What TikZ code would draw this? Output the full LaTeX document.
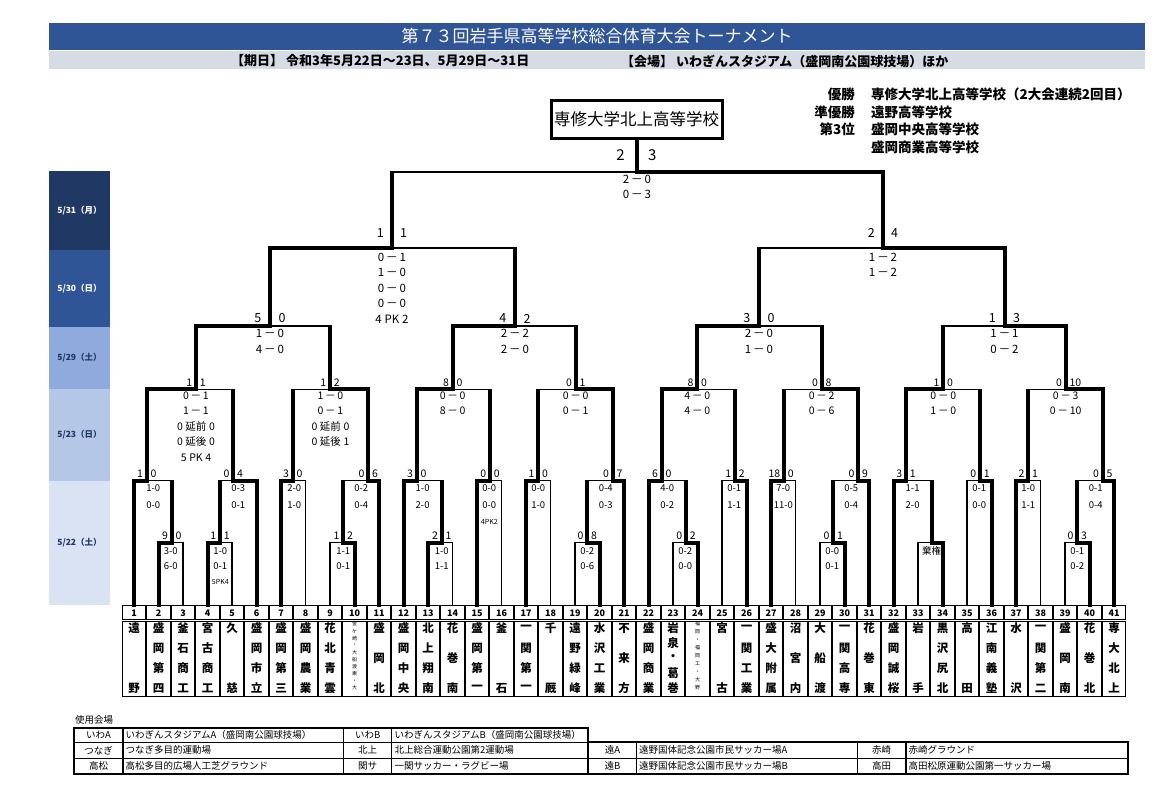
\documentclass[tikz,border=0pt]{standalone}
\usepackage{fontspec}
\setmainfont{Noto Sans CJK JP}
\usetikzlibrary{calc}
\definecolor{titleblue}{HTML}{2F5597}
\definecolor{greybar}{HTML}{D6DCE5}
\definecolor{dA}{HTML}{203864}
\definecolor{dB}{HTML}{2F5597}
\definecolor{dC}{HTML}{8FAADC}
\definecolor{dD}{HTML}{B4C7E7}
\definecolor{dE}{HTML}{DAE3F3}
\definecolor{dtxt}{HTML}{1F3864}
\newcommand\bwt[2]{\draw[win] (#1) |- (#2);}
\newcommand\blt[2]{\draw[lose] (#1) |- (#2);}
\newcommand\bwm[2]{\draw[win] (#1) |- (#2);}
\newcommand\blm[2]{\draw[winv] (#1) -- ($(#1 |- #2)+(0,-0.75)$);\draw[lose] (#1 |- #2) -- (#2);}
\newcommand\mrd[5]{\coordinate (#1) at (#2,#3);
  \node[rl,anchor=east] (la#1) at (#2-3.6,#3-7) {#4};
  \node[rl,anchor=west] (lb#1) at (#2+3.6,#3-7) {#5};}
\newcommand\mqf[5]{\coordinate (#1) at (#2,#3);
  \node[ql,anchor=east] (la#1) at (#2-8.5,#3-7.5) {#4};
  \node[ql,anchor=west] (lb#1) at (#2+8.5,#3-7.5) {#5};}
\newcommand\tnm[3]{\foreach \tch [count=\k] in {#3}{\node[tn] (c#1-\k) at ({134+(#1-1)*24.5},{628+(\k-1)*60/(#2-1)}) {\tch};}}
\newcommand\tnmt[3]{\foreach \tch [count=\k] in {#3}{\node[tnt] (c#1-\k) at ({134+(#1-1)*24.5},{624+(\k-1)*64/(#2-1)}) {\tch};}}
\newcommand\dm{\,－\,}
\newcommand\ex[1]{\hspace{0.25em}#1\hspace{0.25em}}
\begin{document}
\begin{tikzpicture}[x=1pt,y=-1pt,
  win/.style={line width=4pt,line cap=rect,line join=miter},
  winv/.style={line width=4pt,line cap=butt},
  lose/.style={line width=1.5pt},
  rl/.style={inner sep=0pt,font=\fontsize{10.5}{12}\selectfont},
  ql/.style={inner sep=0pt,font=\fontsize{12.5}{14}\selectfont},
  sA/.style={anchor=north,inner sep=0pt,align=center,font=\fontsize{9.5}{15}\selectfont},
  sB/.style={anchor=north,inner sep=0pt,align=center,font=\fontsize{9.5}{16.5}\selectfont},
  sC/.style={anchor=north,inner sep=0pt,align=center,font=\fontsize{10.5}{15.5}\selectfont},
  sD/.style={anchor=north,inner sep=0pt,align=center,font=\fontsize{11.5}{15.6}\selectfont},
  band/.style={minimum width=61pt,inner sep=0pt,font=\bfseries\fontsize{8.5}{10}\selectfont},
  info/.style={inner sep=0pt,font=\bfseries\fontsize{13.5}{15}\selectfont},
  cell/.style={line width=1.1pt},
  tn/.style={inner sep=0pt,font=\bfseries\fontsize{11.5}{12}\selectfont},
  tnt/.style={inner sep=0pt,font=\fontsize{5}{6}\selectfont},
  numf/.style={inner sep=0pt,font=\bfseries\fontsize{9}{10}\selectfont},
  lto/.style={line width=2pt},
  lti/.style={line width=1.3pt},
  lg/.style={inner sep=0pt,font=\fontsize{9.5}{11}\selectfont}]
\useasboundingbox (0,0) rectangle (1152,790);
\fill[white] (0,0) rectangle (1152,790);
% header
\node[fill=titleblue,minimum width=1096pt,minimum height=27pt,inner sep=0pt,text=white,font=\fontsize{17}{19}\selectfont] (title) at (597,36.5) {第７３回岩手県高等学校総合体育大会トーナメント};
\node[fill=greybar,minimum width=1096pt,minimum height=18pt,inner sep=0pt] (sub) at (597,60) {};
\node[inner sep=0pt,anchor=west,font=\bfseries\fontsize{13}{14}\selectfont] (period) at (231,61) {【期日】 令和3年5月22日～23日、5月29日～31日};
\node[inner sep=0pt,anchor=west,font=\bfseries\fontsize{13}{14}\selectfont] (venue) at (621,61) {【会場】 いわぎんスタジアム（盛岡南公園球技場）ほか};
% champion box
\node[draw,line width=3pt,minimum width=171pt,minimum height=38pt,inner sep=0pt,font=\fontsize{16.5}{18}\selectfont] (champ) at (636.5,119.5) {専修大学北上高等学校};
% results
\node[info,anchor=east] (w1l) at (855,94) {優勝};
\node[info,anchor=west] (w1v) at (871,94) {専修大学北上高等学校（2大会連続2回目）};
\node[info,anchor=east] (w2l) at (855,112) {準優勝};
\node[info,anchor=west] (w2v) at (871,112) {遠野高等学校};
\node[info,anchor=east] (w3l) at (855,129.5) {第3位};
\node[info,anchor=west] (w3v) at (871,129.5) {盛岡中央高等学校};
\node[info,anchor=west] (w4v) at (871,147) {盛岡商業高等学校};
% date bands
\node[band,fill=dA,minimum height=79pt,text=white] (d531) at (79.5,210.5) {5/31（月）};
\node[band,fill=dB,minimum height=77pt,text=white] (d530) at (79.5,288.5) {5/30（日）};
\node[band,fill=dC,minimum height=62pt,text=dtxt] (d529) at (79.5,358) {5/29（土）};
\node[band,fill=dD,minimum height=92pt,text=dtxt] (d523) at (79.5,435) {5/23（日）};
\node[band,fill=dE,minimum height=124pt,text=dtxt] (d522) at (79.5,543) {5/22（土）};
% team anchors
\foreach \i in {1,...,41} \coordinate (t\i) at ({134+(\i-1)*24.5},605);
% matches
\mrd{mA}{171.7}{542.7}{9}{0}
\mrd{mB}{220}{542.7}{1}{1}
\mrd{mC}{146.7}{480.7}{1}{0}
\mrd{mD}{233.3}{480.7}{0}{4}
\mrd{mE}{196}{389.3}{1}{1}
\mrd{mG}{292.7}{480.7}{3}{0}
\mrd{mH}{343.3}{542.7}{1}{2}
\mrd{mI}{368.3}{480.7}{0}{6}
\mrd{mF}{330}{389.3}{1}{2}
\mrd{mK}{441.7}{542.7}{2}{1}
\mrd{mJ}{416.7}{480.7}{3}{0}
\mrd{mL}{490}{480.7}{0}{0}
\mrd{mM}{452.7}{389.3}{8}{0}
\mrd{mN}{538.3}{480.7}{1}{0}
\mrd{mO}{587.3}{542.7}{0}{8}
\mrd{mP}{612.7}{480.7}{0}{7}
\mrd{mQ}{575.7}{389.3}{0}{1}
\mrd{mS}{686}{542.7}{0}{2}
\mrd{mR}{661.7}{480.7}{6}{0}
\mrd{mT}{735}{480.7}{1}{2}
\mrd{mU}{697.3}{389.3}{8}{0}
\mrd{mV}{784}{480.7}{18}{0}
\mrd{mW}{833.3}{542.7}{0}{1}
\mrd{mX}{858.3}{480.7}{0}{9}
\mrd{mY}{821.7}{389.3}{0}{8}
\coordinate (mAA) at (931.7,542.7);
\mrd{mZ}{906}{480.7}{3}{1}
\mrd{mAB}{980}{480.7}{0}{1}
\mrd{mAC}{943.3}{389.3}{1}{0}
\mrd{mAD}{1028.3}{480.7}{2}{1}
\mrd{mAE}{1077.3}{542.7}{0}{3}
\mrd{mAF}{1102.7}{480.7}{0}{5}
\mrd{mAG}{1065.7}{389.3}{0}{10}
\mqf{q1}{270}{326}{5}{0}
\mqf{q2}{515}{326}{4}{2}
\mqf{q3}{759}{326}{3}{0}
\mqf{q4}{1004.5}{326}{1}{3}
\coordinate (s1) at (392,248);
\coordinate (s2) at (883,248);
\node[ql,anchor=east] (las1) at (384,233) {1};
\node[ql,anchor=west] (lbs1) at (400,233) {1};
\node[ql,anchor=east] (las2) at (875,233) {2};
\node[ql,anchor=west] (lbs2) at (891,233) {4};
\coordinate (fin) at (637,172);
\node[inner sep=0pt,anchor=east,font=\fontsize{15}{17}\selectfont] (lafin) at (625,155) {2};
\node[inner sep=0pt,anchor=west,font=\fontsize{15}{17}\selectfont] (lbfin) at (648,155) {3};
% bracket lines
\bwt{t2}{mA} \blt{t3}{mA}
\bwt{t4}{mB} \blt{t5}{mB}
\bwt{t1}{mC} \blm{mA}{mC}
\blm{mB}{mD} \bwt{t6}{mD}
\bwm{mC}{mE} \blm{mD}{mE}
\bwt{t7}{mG} \blt{t8}{mG}
\blt{t9}{mH} \bwt{t10}{mH}
\blm{mH}{mI} \bwt{t11}{mI}
\blm{mG}{mF} \bwm{mI}{mF}
\bwm{mE}{q1} \blm{mF}{q1}
\bwt{t13}{mK} \blt{t14}{mK}
\bwt{t12}{mJ} \blm{mK}{mJ}
\bwt{t15}{mL} \blt{t16}{mL}
\bwm{mJ}{mM} \blm{mL}{mM}
\bwt{t17}{mN} \blt{t18}{mN}
\blt{t19}{mO} \bwt{t20}{mO}
\blm{mO}{mP} \bwt{t21}{mP}
\blm{mN}{mQ} \bwm{mP}{mQ}
\bwm{mM}{q2} \blm{mQ}{q2}
\bwm{q1}{s1} \blm{q2}{s1}
\blt{t23}{mS} \bwt{t24}{mS}
\bwt{t22}{mR} \blm{mS}{mR}
\blt{t25}{mT} \bwt{t26}{mT}
\bwm{mR}{mU} \blm{mT}{mU}
\bwt{t27}{mV} \blt{t28}{mV}
\blt{t29}{mW} \bwt{t30}{mW}
\blm{mW}{mX} \bwt{t31}{mX}
\blm{mV}{mY} \bwm{mX}{mY}
\bwm{mU}{q3} \blm{mY}{q3}
\blt{t33}{mAA} \bwt{t34}{mAA}
\bwt{t32}{mZ} \blm{mAA}{mZ}
\blt{t35}{mAB} \bwt{t36}{mAB}
\bwm{mZ}{mAC} \blm{mAB}{mAC}
\bwt{t37}{mAD} \blt{t38}{mAD}
\blt{t39}{mAE} \bwt{t40}{mAE}
\blm{mAE}{mAF} \bwt{t41}{mAF}
\blm{mAD}{mAG} \bwm{mAF}{mAG}
\blm{mAC}{q4} \bwm{mAG}{q4}
\blm{q3}{s2} \bwm{q4}{s2}
\blm{s1}{fin} \bwm{s2}{fin}
\draw[win] (fin) -- (fin |- champ.south);
% scores
\node[sA] (scA) at (170.8,547.3) {3-0\\6-0};
\node[sA] (scB) at (220.3,547.3) {1-0\\0-1\\{\fontsize{7}{8}\selectfont 5PK4}};
\node[sB] (scC) at (153.3,484.8) {1-0\\0-0};
\node[sB] (scD) at (238.3,484.8) {0-3\\0-1};
\node[sC] (scE) at (196,391.2) {0\dm 1\\1\dm 1\\0\ex{延前}0\\0\ex{延後}0\\5\ex{PK}4};
\node[sB] (scG) at (294.2,484.8) {2-0\\1-0};
\node[sA] (scH) at (343.3,547.3) {1-1\\0-1};
\node[sB] (scI) at (361.2,484.8) {0-2\\0-4};
\node[sC] (scF) at (330.5,391.2) {1\dm 0\\0\dm 1\\0\ex{延前}0\\0\ex{延後}1};
\node[sD] (scq1) at (270,329.1) {1\dm 0\\4\dm 0};
\node[sA] (scK) at (441.7,547.3) {1-0\\1-1};
\node[sB] (scJ) at (422.6,484.8) {1-0\\2-0};
\node[sB] (scL) at (489.3,484.8) {0-0\\0-0\\{\fontsize{7}{8}\selectfont 4PK2}};
\node[sC] (scM) at (452.7,391.2) {0\dm 0\\8\dm 0};
\node[sB] (scN) at (538.3,484.8) {0-0\\1-0};
\node[sA] (scO) at (587.3,547.3) {0-2\\0-6};
\node[sB] (scP) at (605.7,484.8) {0-4\\0-3};
\node[sC] (scQ) at (575.7,391.2) {0\dm 0\\0\dm 1};
\node[sD] (scq2) at (515,329.1) {2\dm 2\\2\dm 0};
\node[sD] (scs1) at (392,252.5) {0\dm 1\\1\dm 0\\0\dm 0\\0\dm 0\\4\ex{PK}2};
\node[sA] (scS) at (685.3,547.3) {0-2\\0-0};
\node[sB] (scR) at (667.3,484.8) {4-0\\0-2};
\node[sB] (scT) at (734.3,484.8) {0-1\\1-1};
\node[sC] (scU) at (697.3,391.2) {4\dm 0\\4\dm 0};
\node[sB] (scV) at (783.3,484.8) {7-0\\11-0};
\node[sA] (scW) at (832.3,547.3) {0-0\\0-1};
\node[sB] (scX) at (851.2,484.8) {0-5\\0-4};
\node[sC] (scY) at (821.7,391.2) {0\dm 2\\0\dm 6};
\node[sD] (scq3) at (759,329.1) {2\dm 0\\1\dm 0};
\node[sA] (scAA) at (931.7,546) {棄権};
\node[sB] (scZ) at (912.6,484.8) {1-1\\2-0};
\node[sB] (scAB) at (979.3,484.8) {0-1\\0-0};
\node[sC] (scAC) at (943.3,391.2) {0\dm 0\\1\dm 0};
\node[sB] (scAD) at (1028.3,484.8) {1-0\\1-1};
\node[sA] (scAE) at (1077.3,547.3) {0-1\\0-2};
\node[sB] (scAF) at (1095.7,484.8) {0-1\\0-4};
\node[sC] (scAG) at (1065.7,391.2) {0\dm 3\\0\dm 10};
\node[sD] (scq4) at (1004.5,329.1) {1\dm 1\\0\dm 2};
\node[sD] (scs2) at (883,252.5) {1\dm 2\\1\dm 2};
\node[sD] (scfin) at (637,174.8) {2\dm 0\\0\dm 3};
% team table
\foreach \i in {1,...,41}{
  \pgfmathsetmacro\tx{134+(\i-1)*24.5}
  \draw[cell] (\tx-11.6,605.6) rectangle (\tx+11.6,619.9);
  \draw[cell] (\tx-11.6,621.3) rectangle (\tx+11.6,696.6);
  \node[numf] (n\i) at (\tx,612.8) {\i};
}
\tnm{1}{2}{遠,野}
\tnm{2}{4}{盛,岡,第,四}
\tnm{3}{4}{釜,石,商,工}
\tnm{4}{4}{宮,古,商,工}
\tnm{5}{2}{久,慈}
\tnm{6}{4}{盛,岡,市,立}
\tnm{7}{4}{盛,岡,第,三}
\tnm{8}{4}{盛,岡,農,業}
\tnm{9}{4}{花,北,青,雲}
\tnmt{10}{10}{金,ケ,崎,・,大,船,渡,東,・,大}
\tnm{11}{3}{盛,岡,北}
\tnm{12}{4}{盛,岡,中,央}
\tnm{13}{4}{北,上,翔,南}
\tnm{14}{3}{花,巻,南}
\tnm{15}{4}{盛,岡,第,一}
\tnm{16}{2}{釜,石}
\tnm{17}{4}{一,関,第,一}
\tnm{18}{2}{千,厩}
\tnm{19}{4}{遠,野,緑,峰}
\tnm{20}{4}{水,沢,工,業}
\tnm{21}{3}{不,来,方}
\tnm{22}{4}{盛,岡,商,業}
\tnm{23}{5}{岩,泉,・,葛,巻}
\tnmt{24}{9}{福,岡,・,福,岡,工,・,大,野}
\tnm{25}{2}{宮,古}
\tnm{26}{4}{一,関,工,業}
\tnm{27}{4}{盛,大,附,属}
\tnm{28}{3}{沼,宮,内}
\tnm{29}{3}{大,船,渡}
\tnm{30}{4}{一,関,高,専}
\tnm{31}{3}{花,巻,東}
\tnm{32}{4}{盛,岡,誠,桜}
\tnm{33}{2}{岩,手}
\tnm{34}{4}{黒,沢,尻,北}
\tnm{35}{2}{高,田}
\tnm{36}{4}{江,南,義,塾}
\tnm{37}{2}{水,沢}
\tnm{38}{4}{一,関,第,二}
\tnm{39}{3}{盛,岡,南}
\tnm{40}{3}{花,巻,北}
\tnm{41}{4}{専,大,北,上}
% legend
\node[lg,anchor=west] (lgt) at (75,719.5) {使用会場};
\draw[lto] (74,727.7) rectangle (588.2,774);
\foreach \yy in {742.3,758.3} \draw[lti] (74,\yy) -- (588.2,\yy);
\foreach \xx in {122.9,343.6,391.8} \draw[lti] (\xx,727.7) -- (\xx,774);
\draw[lto] (588.2,742.3) rectangle (1127.5,774);
\draw[lti] (588.2,758.3) -- (1127.5,758.3);
\foreach \xx in {636.6,857.4,906} \draw[lti] (\xx,742.3) -- (\xx,774);
\node[lg] (v1a) at (98.5,735) {いわA};
\node[lg,anchor=west] (v1b) at (125.5,735) {いわぎんスタジアムA（盛岡南公園球技場）};
\node[lg] (v1c) at (367.7,735) {いわB};
\node[lg,anchor=west] (v1d) at (394.5,735) {いわぎんスタジアムB（盛岡南公園球技場）};
\node[lg] (v2a) at (98.5,750.3) {つなぎ};
\node[lg,anchor=west] (v2b) at (125.5,750.3) {つなぎ多目的運動場};
\node[lg] (v2c) at (367.7,750.3) {北上};
\node[lg,anchor=west] (v2d) at (394.5,750.3) {北上総合運動公園第2運動場};
\node[lg] (v2e) at (612.4,750.3) {遠A};
\node[lg,anchor=west] (v2f) at (639,750.3) {遠野国体記念公園市民サッカー場A};
\node[lg] (v2g) at (881.7,750.3) {赤崎};
\node[lg,anchor=west] (v2h) at (908.5,750.3) {赤崎グラウンド};
\node[lg] (v3a) at (98.5,766.2) {高松};
\node[lg,anchor=west] (v3b) at (125.5,766.2) {高松多目的広場人工芝グラウンド};
\node[lg] (v3c) at (367.7,766.2) {関サ};
\node[lg,anchor=west] (v3d) at (394.5,766.2) {一関サッカー・ラグビー場};
\node[lg] (v3e) at (612.4,766.2) {遠B};
\node[lg,anchor=west] (v3f) at (639,766.2) {遠野国体記念公園市民サッカー場B};
\node[lg] (v3g) at (881.7,766.2) {高田};
\node[lg,anchor=west] (v3h) at (908.5,766.2) {高田松原運動公園第一サッカー場};
\end{tikzpicture}
\end{document}
